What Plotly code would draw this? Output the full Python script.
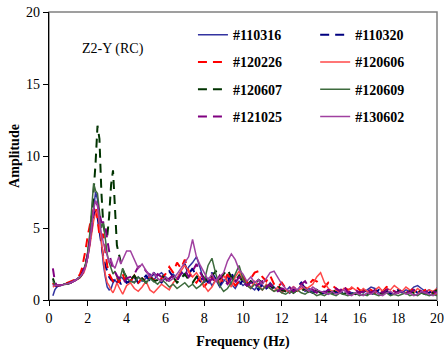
import plotly.graph_objects as go

# Frequency grid (Hz): 0.2-4.0 step 0.1, then 4.2-20.0 step 0.2
freq_low = [round(0.1 * i, 1) for i in range(2, 41)]
freq_high = [round(0.2 * i, 1) for i in range(21, 101)]
freq = freq_low + freq_high

s110316 = [0.3,0.7,0.9,1.0,1.0,1.05,1.1,1.1,1.15,1.2,1.25,1.3,1.4,1.5,1.6,1.8,2.0,
           2.4,3.0,3.9,5.0,6.4,7.5,7.0,5.5,3.8,2.5,1.6,0.9,0.7,0.8,1.2,1.4,1.2,1.3,1.6,1.5,1.3,1.2,
           1.4,1.2,1.6,1.3,1.5,1.8,1.4,1.7,1.9,1.6,
           1.4,1.8,1.5,2.0,1.7,2.3,2.6,3.0,2.2,1.2,
           1.5,1.0,1.4,0.9,1.3,1.6,1.1,0.8,1.3,1.0,
           1.2,0.9,0.7,1.1,1.0,0.8,1.2,0.9,0.6,0.8,
           0.6,0.9,0.5,0.7,1.0,0.6,0.8,0.5,0.7,0.5,
           0.6,0.4,0.6,0.5,0.7,0.4,0.6,0.5,0.4,0.6,
           0.5,0.7,0.9,0.8,0.5,0.4,0.6,0.5,0.4,0.6,
           0.5,0.7,0.6,0.9,1.0,0.8,0.6,0.7,0.4,0.6]
s110320 = [1.1,1.0,0.95,1.0,1.0,1.05,1.1,1.1,1.15,1.2,1.25,1.3,1.4,1.5,1.65,1.9,2.2,
           2.6,3.2,4.0,4.9,5.8,6.2,5.8,4.8,3.8,3.0,2.4,2.0,1.6,1.4,1.3,1.5,1.2,1.4,1.1,1.3,1.5,1.2,
           1.3,1.6,1.2,1.4,1.7,1.3,1.9,1.5,1.2,1.6,
           2.0,1.6,1.3,1.9,2.5,1.8,2.2,1.6,1.3,1.7,
           1.2,1.9,1.4,1.0,1.6,1.2,1.9,1.3,1.0,1.4,
           0.9,1.3,1.0,0.7,1.1,0.8,1.0,0.7,0.9,0.6,
           0.8,0.5,0.7,0.9,1.2,0.8,0.6,0.5,0.7,0.4,
           0.5,0.7,0.4,0.6,0.5,0.7,0.5,0.4,0.6,0.5,
           0.7,0.6,0.4,0.5,0.7,0.5,0.6,0.4,0.5,0.7,
           0.6,0.4,0.5,0.7,0.5,0.6,0.4,0.5,0.7,0.8]
s120226 = [1.2,1.0,1.0,1.0,1.05,1.05,1.1,1.15,1.2,1.25,1.3,1.35,1.45,1.6,1.8,2.2,2.8,
           3.6,4.5,5.2,5.8,6.3,6.5,5.6,4.5,4.3,4.6,3.4,2.4,1.8,1.5,1.3,1.4,1.6,1.2,1.5,1.8,1.4,1.6,
           1.3,1.7,1.2,1.5,1.3,1.6,1.4,1.2,1.5,1.8,
           2.3,1.9,2.6,2.2,2.8,2.0,1.5,1.2,1.6,0.9,
           1.3,1.7,1.1,1.5,1.2,1.8,1.4,1.0,1.3,1.6,
           1.2,1.5,1.9,2.0,1.6,1.3,1.7,1.1,0.9,1.2,
           0.8,0.6,0.9,0.7,1.0,0.8,1.1,1.4,1.3,1.0,
           0.9,1.2,1.0,0.8,0.6,0.9,0.7,0.8,1.0,0.7,
           0.6,0.8,0.7,0.5,0.8,0.6,0.9,0.8,0.6,0.5,
           0.7,0.5,0.6,0.8,0.6,0.5,0.7,0.6,0.5,0.4]
s120606 = [0.9,1.0,1.0,1.0,1.0,1.05,1.1,1.1,1.15,1.2,1.25,1.3,1.35,1.45,1.55,1.7,1.9,
           2.3,2.9,3.7,4.6,5.5,6.0,6.2,5.2,4.0,2.8,1.8,1.2,1.0,0.7,0.5,0.8,1.2,0.9,0.6,0.4,0.7,1.0,
           1.2,0.8,0.6,0.9,1.3,0.7,0.5,0.8,1.1,0.9,
           0.7,1.2,1.5,2.0,2.4,2.0,1.6,1.9,1.4,1.0,
           0.6,0.9,1.4,1.2,1.7,1.3,0.9,1.6,2.0,1.4,
           1.1,0.8,1.3,1.0,0.7,1.1,0.8,0.6,0.9,0.5,
           0.7,0.5,0.9,0.6,0.8,0.7,0.9,1.1,1.6,1.9,
           1.2,0.8,0.6,0.7,0.5,0.8,0.6,0.9,0.7,0.5,
           0.8,0.6,0.5,0.7,0.9,0.6,0.8,0.7,1.0,0.8,
           0.6,0.9,0.7,0.5,0.8,0.6,0.5,0.7,0.6,0.8]
s120607 = [1.5,1.1,1.0,1.0,1.0,1.05,1.1,1.1,1.15,1.2,1.25,1.3,1.4,1.5,1.6,1.8,2.1,
           2.5,3.2,4.2,5.6,7.4,9.5,12.1,11.2,7.5,5.2,4.6,4.4,5.8,8.0,9.0,6.5,3.8,3.2,2.6,2.1,1.8,1.6,
           1.4,1.7,1.3,1.5,1.2,1.6,1.3,1.4,1.7,1.5,
           1.3,1.6,1.2,1.5,1.8,1.4,1.2,1.6,1.9,1.5,
           1.3,1.7,2.0,1.5,1.8,2.1,1.6,1.3,1.7,1.2,
           1.0,1.3,1.1,1.4,1.2,0.9,1.1,0.8,1.0,0.7,
           0.6,0.8,0.5,0.7,0.6,0.8,0.5,0.6,0.7,0.5,
           0.4,0.6,0.5,0.7,0.5,0.4,0.6,0.5,0.4,0.5,
           0.6,0.4,0.5,0.6,0.4,0.5,0.7,0.5,0.4,0.6,
           0.5,0.4,0.6,0.5,0.7,0.5,0.4,0.6,0.5,0.7]
s120609 = [1.3,1.1,1.0,1.0,1.0,1.05,1.1,1.1,1.15,1.2,1.25,1.3,1.4,1.5,1.6,1.8,2.1,
           2.6,3.4,4.6,6.2,8.1,7.6,7.4,6.2,5.0,5.4,4.2,3.2,2.6,2.2,1.8,2.0,1.6,1.4,1.7,2.2,1.9,1.5,
           1.3,1.2,1.6,1.4,1.2,1.5,1.3,1.1,1.4,1.2,
           0.9,1.1,0.8,1.0,1.2,0.9,1.1,0.8,1.0,1.3,
           2.4,2.9,1.8,1.0,0.6,0.8,1.2,1.8,2.4,1.5,
           1.0,0.8,1.1,0.9,0.7,1.0,0.8,0.6,0.7,0.5,
           0.4,0.6,0.5,0.7,0.5,0.4,0.6,0.5,0.3,0.4,
           0.3,0.5,0.4,0.3,0.5,0.4,0.3,0.4,0.5,0.3,
           0.4,0.3,0.5,0.4,0.3,0.4,0.5,0.3,0.4,0.3,
           0.4,0.5,0.3,0.4,0.3,0.5,0.4,0.3,0.4,0.3]
s121025 = [2.2,1.3,1.0,1.0,1.0,1.05,1.1,1.1,1.15,1.2,1.25,1.3,1.4,1.5,1.6,1.8,2.1,
           2.5,3.1,3.9,5.0,6.2,6.8,6.6,5.9,5.4,5.4,5.2,4.2,3.4,2.6,2.2,1.9,1.7,1.5,1.6,1.4,1.3,1.5,
           1.6,1.8,2.3,2.4,2.0,1.7,1.5,1.8,1.6,1.3,
           1.5,1.7,1.4,1.8,2.1,1.6,2.0,2.5,1.9,1.4,
           1.1,1.5,1.2,1.7,1.4,1.1,1.5,1.2,1.6,1.3,
           1.0,1.2,0.9,1.1,1.3,0.9,1.1,0.8,0.6,0.8,
           0.7,0.9,0.6,0.8,1.1,1.3,0.9,0.7,0.5,0.7,
           0.5,0.7,0.6,0.8,0.6,1.0,0.5,0.6,0.7,0.5,
           0.6,0.8,0.5,0.7,0.6,0.5,0.7,0.8,0.6,0.5,
           0.7,0.6,0.5,0.7,0.8,0.6,0.5,0.7,0.6,0.5]
s130602 = [1.0,1.0,1.0,1.0,1.0,1.05,1.1,1.1,1.15,1.2,1.25,1.3,1.4,1.5,1.6,1.8,2.0,
           2.4,3.0,3.9,5.1,6.3,6.9,6.6,5.6,4.6,4.0,3.5,3.0,2.6,2.8,2.4,2.2,2.6,3.0,2.5,2.8,3.1,3.4,
           3.4,2.8,2.2,2.5,2.0,1.6,1.9,1.5,1.3,1.6,
           1.3,1.5,1.8,2.2,2.6,3.0,4.2,3.0,2.4,1.9,
           1.4,1.8,1.3,1.6,1.9,2.7,3.2,2.8,2.1,1.8,
           1.3,1.6,1.2,1.4,1.1,1.5,1.9,2.0,1.5,1.1,
           0.8,0.6,0.9,0.7,1.0,0.8,0.6,0.9,0.7,0.6,
           0.5,0.4,0.6,0.4,0.5,0.7,0.4,0.3,0.5,0.4,
           0.3,0.5,0.4,0.6,0.4,0.3,0.5,0.6,0.4,0.5,
           0.6,0.4,0.5,0.3,0.4,0.6,0.5,0.4,0.3,0.5]

names = ["#110316", "#110320", "#120226", "#120606",
         "#120607", "#120609", "#121025", "#130602"]
series = [s110316, s110320, s120226, s120606, s120607, s120609, s121025, s130602]
colors = ["#3333a0", "#000080", "#ff0000", "#ff4848",
          "#003300", "#3d6b3d", "#800080", "#a040a0"]
dashed = [False, True, True, False, True, False, True, False]

fig = go.Figure()
for i, (nm, ys, c, d) in enumerate(zip(names, series, colors, dashed)):
    fig.add_trace(go.Scatter(
        x=freq, y=ys, mode="lines", name="<b>" + nm + "</b>",
        line=dict(color=c, width=2 if d else 1.5, dash="9px,6px" if d else "solid"),
        legend="legend" if i % 2 == 0 else "legend2",
        legendgroup=nm,
    ))

font_serif = "Liberation Serif, Times New Roman, serif"
leg_common = dict(font=dict(family=font_serif, size=14, color="black"),
                  bgcolor="rgba(0,0,0,0)", borderwidth=0,
                  tracegroupgap=6, itemwidth=30,
                  xanchor="left", yanchor="top", orientation="v")

fig.update_layout(
    width=444, height=354,
    margin=dict(l=49, r=7, t=12, b=54),
    paper_bgcolor="white", plot_bgcolor="white",
    font=dict(family=font_serif, size=14, color="black"),
    showlegend=True,
    legend=dict(x=0.371, y=0.975, **leg_common),
    legend2=dict(x=0.686, y=0.975, **leg_common),
    xaxis=dict(range=[0, 20], dtick=2, tick0=0, showgrid=False, zeroline=False,
               showline=True, linecolor="black", linewidth=1.2, automargin=False,
               ticks="outside", ticklen=5, tickcolor="black",
               title=dict(text="<b>Frequency (Hz)</b>", standoff=11,
                          font=dict(family=font_serif, size=14))),
    yaxis=dict(range=[0, 20], dtick=5, tick0=0, showgrid=False, zeroline=False,
               showline=True, linecolor="black", linewidth=1.2, automargin=False,
               ticks="outside", ticklen=5, tickcolor="black",
               title=dict(text="<b>Amplitude</b>", standoff=3,
                          font=dict(family=font_serif, size=14))),
    shapes=[dict(type="rect", xref="paper", yref="paper", x0=0, x1=1, y0=0, y1=1,
                 line=dict(color="#808080", width=1.5), layer="below")],
    annotations=[dict(text="Z2-Y (RC)", xref="paper", yref="paper", x=0.08, y=0.872,
                      xanchor="left", yanchor="middle", showarrow=False,
                      font=dict(family=font_serif, size=14, color="black"))],
)

fig.write_html("out.html")
